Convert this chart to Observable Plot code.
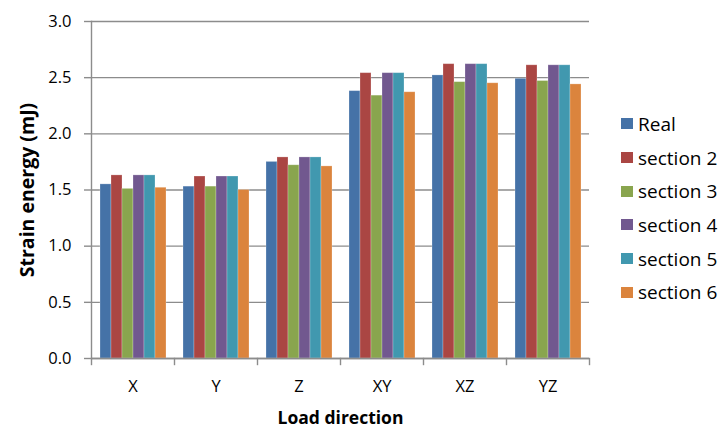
<!DOCTYPE html>
<html><head><meta charset="utf-8">
<script src="https://cdn.jsdelivr.net/npm/d3@7"></script>
<script src="https://cdn.jsdelivr.net/npm/@observablehq/plot@0.6"></script>
<style>
body{margin:0;background:#fff;}
#wrap{position:relative;width:719px;height:427px;font-family:"Open Sans",sans-serif;}
#legend{position:absolute;left:621px;top:107px;}
.item{display:flex;align-items:center;height:33.7px;font-size:19px;color:#000;white-space:nowrap;}
.sw{width:12px;height:11px;margin-right:5px;flex:none;}
g[aria-label="y-axis label"] text{font-weight:bold;font-size:19.5px;}
g[aria-label="fx-axis label"] text{font-weight:bold;font-size:17.5px;}
</style></head><body><div id="wrap"></div>
<script>
const categories = ["X","Y","Z","XY","XZ","YZ"];
const series = ["Real","section 2","section 3","section 4","section 5","section 6"];
const real     = [1.55,1.53,1.75,2.38,2.52,2.49];
const section2 = [1.63,1.62,1.79,2.54,2.62,2.61];
const section3 = [1.51,1.53,1.72,2.34,2.46,2.47];
const section4 = [1.63,1.62,1.79,2.54,2.62,2.61];
const section5 = [1.63,1.62,1.79,2.54,2.62,2.61];
const section6 = [1.52,1.50,1.71,2.37,2.45,2.44];
const colors = ["#4572A7","#AA4643","#89A54E","#71588F","#4198AF","#DB843D"];
const yTicks = [0,0.5,1,1.5,2,2.5,3];

const values = [real, section2, section3, section4, section5, section6];
const data = categories.flatMap((c,i) => series.map((s,j) => ({cat:c, series:s, value:values[j][i]})));

const gray = "#8c8c8c";
const chart = Plot.plot({
  width:719, height:427,
  marginLeft:89, marginRight:128, marginTop:21, marginBottom:69,
  style:{fontFamily:"Open Sans, sans-serif", fontSize:"16.5px", color:"#000", background:"#fff", overflow:"visible"},
  fx:{domain:categories, padding:0, label:null, axis:null},
  x:{domain:series, paddingInner:0, paddingOuter:0.75, axis:null},
  y:{domain:[0,3]},
  color:{domain:series, range:colors},
  marks:[
    Plot.gridY(yTicks,{stroke:gray, strokeOpacity:1, strokeWidth:1.4}),
    Plot.barY(data,{fx:"cat", x:"series", y:"value", fill:"series", stroke:"#fff", strokeOpacity:0.3, strokeWidth:0.8}),
    Plot.ruleY([0],{stroke:gray, strokeWidth:1.4}),
    Plot.frame({anchor:"left", facetAnchor:"left", stroke:gray, strokeWidth:1.4}),
    Plot.frame({anchor:"left", stroke:gray, strokeWidth:1.4, insetTop:337, insetBottom:-6}),
    Plot.frame({anchor:"right", facetAnchor:"right", stroke:gray, strokeWidth:1.4, insetTop:337, insetBottom:-6}),
    Plot.axisY(yTicks,{tickSize:7, tickPadding:13, tickFormat:d3.format(".1f"), stroke:gray, strokeWidth:1.4,
      label:"Strain energy (mJ)", labelAnchor:"center", labelOffset:71, labelArrow:"none"}),
    Plot.axisFx({anchor:"bottom", tickSize:0, tickPadding:22, label:"Load direction", labelAnchor:"center", labelOffset:65, labelArrow:"none"})
  ]
});
const wrap = document.getElementById("wrap");
wrap.appendChild(chart);
const legend = document.createElement("div");
legend.id = "legend";
series.forEach((s,i) => {
  const it = document.createElement("div"); it.className = "item";
  const sw = document.createElement("span"); sw.className = "sw"; sw.style.background = colors[i];
  const tx = document.createElement("span"); tx.textContent = s;
  it.appendChild(sw); it.appendChild(tx); legend.appendChild(it);
});
wrap.appendChild(legend);
</script></body></html>
